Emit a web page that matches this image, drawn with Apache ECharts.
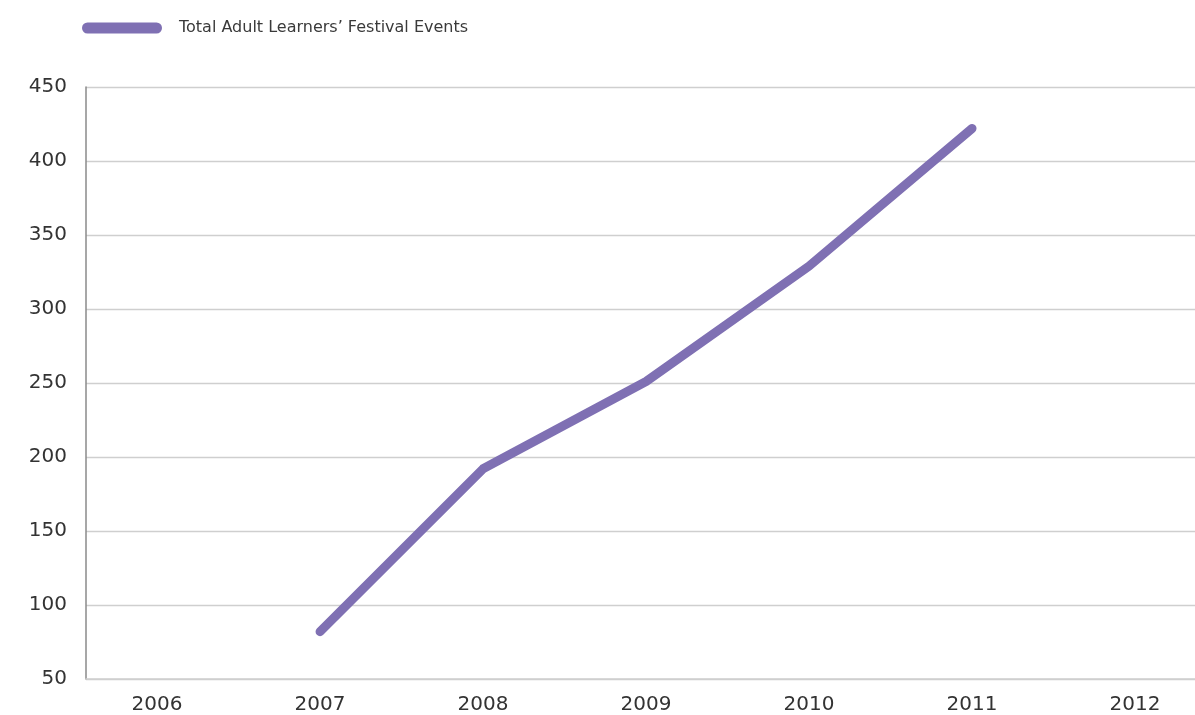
<!DOCTYPE html>
<html>
<head>
<meta charset="utf-8">
<script src="https://cdn.jsdelivr.net/npm/echarts@6/dist/echarts.min.js"></script>
<style>html,body{margin:0;padding:0;background:#fff}#c{width:1195px;height:715px}</style>
</head>
<body>
<div id="c"></div>
<script>
var seriesName = "Total Adult Learners\u2019 Festival Events";
var years = [2007, 2008, 2009, 2010, 2011];
var events = [82, 192, 251, 329, 422];
var yearTicks = [2006, 2007, 2008, 2009, 2010, 2011, 2012];
var yTicks = [50, 100, 150, 200, 250, 300, 350, 400, 450];

var chart = echarts.init(document.getElementById('c'));
var FONT = '"DejaVu Sans", sans-serif';
chart.setOption({
  animation: false,
  textStyle: { fontFamily: FONT },
  legend: {
    left: 82, top: 20, padding: 0,
    itemWidth: 80, itemHeight: 11,
    icon: 'path://M5.5,0 H74.5 A5.5,5.5 0 0 1 74.5,11 H5.5 A5.5,5.5 0 0 1 5.5,0 Z',
    textStyle: { fontSize: 16, color: '#3a3a3a', fontFamily: FONT, padding: [0, 0, 0, 12] },
    data: [seriesName]
  },
  grid: { left: 86, right: 0, top: 87, bottom: 33, containLabel: false },
  xAxis: {
    type: 'value',
    min: 2005.564, max: 2012.368,
    axisLine: { show: true, onZero: false, lineStyle: { color: '#cfcfcf', width: 1.5 } },
    axisTick: { show: false },
    splitLine: { show: false },
    axisLabel: {
      customValues: yearTicks,
      showMinLabel: true, showMaxLabel: true,
      fontSize: 20, color: '#333', margin: 16, fontFamily: FONT,
      formatter: function (v) { return String(Math.round(v)); }
    }
  },
  yAxis: {
    type: 'value',
    min: 50, max: 450, interval: 50,
    axisLine: { show: true, lineStyle: { color: '#8a8a8a', width: 1.5 } },
    axisTick: { show: false },
    splitLine: { lineStyle: { color: '#cfcfcf', width: 1.3 } },
    axisLabel: { fontSize: 20, color: '#333', margin: 19, fontFamily: FONT,
      customValues: yTicks, padding: [0, 0, 8, 0] }
  },
  series: [{
    name: seriesName,
    type: 'line',
    data: years.map(function (y, i) { return [y, events[i]]; }),
    symbol: 'none',
    color: '#7f70b3',
    lineStyle: { width: 9, color: '#7f70b3', cap: 'round', join: 'round' }
  }]
});
</script>
</body>
</html>
